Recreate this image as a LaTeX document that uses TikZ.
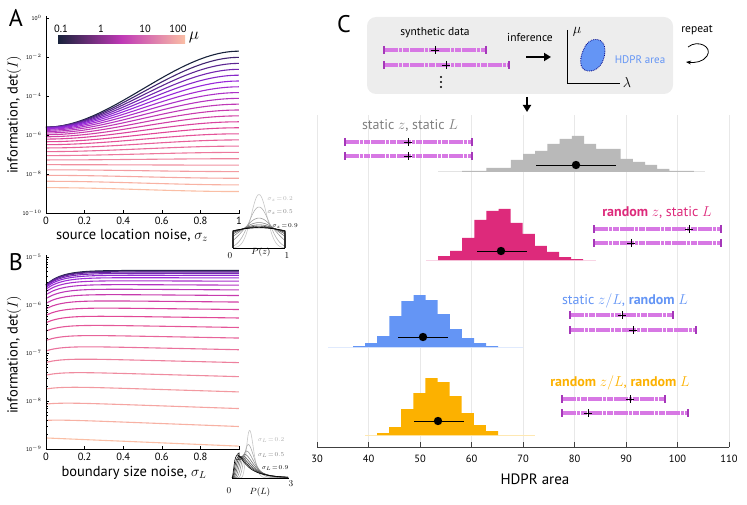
\documentclass[tikz,border=0pt]{standalone}
\usepackage{fontspec}
\setmainfont{PT Sans}
\usetikzlibrary{arrows.meta}
\definecolor{c0}{RGB}{25,35,60}
\definecolor{c1}{RGB}{150,40,220}
\definecolor{c2}{RGB}{225,70,150}
\definecolor{c3}{RGB}{250,190,165}
\definecolor{hgray}{RGB}{185,185,185}
\definecolor{hpink}{RGB}{221,42,123}
\definecolor{hblue}{RGB}{100,149,245}
\definecolor{horange}{RGB}{252,177,0}
\definecolor{dlight}{RGB}{215,120,228}
\definecolor{ddark}{RGB}{165,55,185}
\newcommand\hist[5]{\fill[#4] (#1,#3) \foreach \h [count=\i] in {#5} { -- ({#1+(\i-1)*#2},{#3-\h}) -- ({#1+\i*#2},{#3-\h}) } |- (#1,#3) -- cycle;}
\newcommand\dbar[4]{% y, x0, x1, cross
  \draw[dlight,line width=3.4pt,dash pattern=on 14pt off 1pt on 3pt off 1pt on 6pt off 1pt] (#2,#1) -- (#3,#1);
  \draw[ddark,line width=1.3pt] (#2,#1-4) -- (#2,#1+4) (#3,#1-4) -- (#3,#1+4);
  \draw[black,line width=0.6pt] (#4-4,#1) -- (#4+4,#1) (#4,#1-4) -- (#4,#1+4);}
\newcommand\mkcol[1]{%
  \pgfmathsetmacro\tc{pow(#1,0.7)}%
  \pgfmathtruncatemacro\seg{min(2,floor(\tc*3))}%
  \pgfmathtruncatemacro\pp{min(100,100*(\tc*3-\seg))}%
  \ifcase\seg \colorlet{cc}{c1!\pp!c0}\or \colorlet{cc}{c2!\pp!c1}\or \colorlet{cc}{c3!\pp!c2}\fi}
\tikzset{tick/.style={font=\fontsize{10.5}{10.5}\selectfont},
  ylab/.style={font=\fontsize{5.5}{6}\selectfont,anchor=east},
  lett/.style={font=\fontsize{24}{24}\selectfont},
  axl/.style={font=\fontsize{14.5}{14.5}\selectfont},
  clab/.style={font=\fontsize{14}{14}\selectfont}}
\begin{document}
\begin{tikzpicture}[x=1pt,y=-1pt]
\useasboundingbox (0,0) rectangle (747,505);
% ===== Panel A =====
\node[lett] (la) at (16,18) {A};
\foreach \i in {0,...,23}{
  \pgfmathsetmacro\t{\i/23}
  \mkcol{\t}
  \pgfmathsetmacro\aa{-5.6-3.1*pow(\t,2.5)}
  \pgfmathsetmacro\bb{4.1*pow(1-\t,1.8)-0.2}
  \draw[cc,line width=1.1pt] plot[domain=0:1,samples=25,smooth] ({46+193*\x},{18-19.5*(\aa+\bb*(3*\x*\x-2*\x*\x*\x))});
}
\draw[line width=0.8pt] (46,16) -- (46,213) -- (240,213);
\foreach \k/\lab in {0/0,2/-2,4/-4,6/-6,8/-8,10/-10}{
  \draw (46,18+19.5*\k) -- (49,18+19.5*\k);
  \node[ylab] at (45,18+19.5*\k) {10$^{\lab}$};}
\foreach \v in {0,0.2,0.4,0.6,0.8,1}{
  \draw (46+193*\v,213) -- (46+193*\v,210);
  \node[tick] at (46+193*\v,221) {\v};}
\node[axl,rotate=90] (ayl) at (14,115) {information, $\det(I)$};
\node[axl] (axl) at (132,235) {source location noise, $\sigma_z$};
\shade[left color=c0,right color=c3,middle color=c1!45!c2] (58,36) rectangle (185,44);
\node[tick] at (61,29) {0.1};\node[tick] at (101,29) {1};
\node[tick] at (145,29) {10};\node[tick] at (178,29) {100};
\node[font=\fontsize{16}{16}\selectfont] at (194,37) {$\mu$};
% inset A
\foreach \s/\g in {0.15/22,0.2/30,0.3/40,0.4/50,0.5/60,0.6/70,0.7/80,0.8/90,0.9/100}{
  \pgfmathsetmacro\P{20/(\s*2.5066*tanh(0.424/\s))}
  \draw[black!\g,line width=0.6pt] (233,248) -- plot[domain=0:1,samples=30,smooth] ({233+52*\x},{248-\P*exp(-(\x-0.5)^2/(2*\s*\s))}) -- (285,248);}
\draw[line width=0.8pt] (233,248) -- (285,248);
\node[font=\fontsize{6.5}{6.5}\selectfont,text=black!30] at (280,199) {$\sigma_z\!=\!0.2$};
\node[font=\fontsize{6.5}{6.5}\selectfont,text=black!50] at (280,212) {$\sigma_z\!=\!0.5$};
\node[font=\fontsize{6.5}{6.5}\selectfont] at (285,226) {$\sigma_z\!=\!0.9$};
\node[font=\fontsize{9}{9}\selectfont] at (230,256) {$0$};
\node[font=\fontsize{9}{9}\selectfont] at (287,256) {$1$};
\node[font=\fontsize{9}{9}\selectfont] at (261,252) {$P(z)$};
% ===== Panel B =====
\node[lett] (lb) at (16,262) {B};
\foreach \i in {0,...,21}{
  \pgfmathsetmacro\t{\i/21}
  \mkcol{\t}
  \pgfmathsetmacro\aa{-5.58-3.19*pow(\t,2.5)}
  \pgfmathsetmacro\rr{0.3*pow(1-\t,0.8)}
  \pgfmathsetmacro\dd{0.17*\t*\t}
  \draw[cc,line width=1.1pt] plot[domain=0:1,samples=30,smooth] ({46+193*\x},{257-48*(\aa+\rr*(1-exp(-\x/0.08))-\dd*\x+5)});
}
\draw[line width=0.8pt] (46,255) -- (46,449) -- (240,449);
\foreach \k in {5,6,7,8,9}{
  \draw (46,257+48*\k-240) -- (49,257+48*\k-240);
  \node[ylab] at (45,257+48*\k-240) {10$^{-\k}$};}
\foreach \k in {5,6,7,8}{\foreach \m in {2,...,9}{
  \draw[line width=0.3pt] (46,{257+48*(\k-5)+48-48*log10(\m)}) -- (48,{257+48*(\k-5)+48-48*log10(\m)});}}
\foreach \v in {0,0.2,0.4,0.6,0.8,1}{
  \draw (46+193*\v,449) -- (46+193*\v,446);
  \node[tick] at (46+193*\v,457) {\v};}
\node[axl,rotate=90] (byl) at (14,355) {information, $\det(I)$};
\node[axl] (bxl) at (134,473) {boundary size noise, $\sigma_L$};
% inset B
\foreach \s/\g in {0.2/22,0.3/32,0.4/42,0.5/52,0.6/62,0.7/72,0.8/85,0.9/100}{
  \draw[black!\g,line width=0.6pt] (232,478) -- plot[domain=0.02:3,samples=70,smooth] ({232+18.7*\x},{478-23*exp(max(-30,-(ln(\x)+\s*\s/2)^2/(2*\s*\s)))/(\x*\s*2.5066)});}
\draw[line width=0.8pt] (232,478) -- (289,478);
\node[font=\fontsize{6.5}{6.5}\selectfont,text=black!30] at (271,440) {$\sigma_L\!=\!0.2$};
\node[font=\fontsize{6.5}{6.5}\selectfont,text=black!50] at (271,455) {$\sigma_L\!=\!0.5$};
\node[font=\fontsize{6.5}{6.5}\selectfont] at (275,468) {$\sigma_L\!=\!0.9$};
\node[font=\fontsize{9}{9}\selectfont] at (229,491) {$0$};
\node[font=\fontsize{9}{9}\selectfont] at (291,484) {$3$};
\node[font=\fontsize{9}{9}\selectfont] at (260,492) {$P(L)$};
% ===== Panel C =====
\node[lett] (lc) at (344,24) {C};
\fill[black!7,rounded corners=9pt] (367,17) rectangle (673,94);
\node[font=\fontsize{11.5}{11.5}\selectfont] (syn) at (435,33) {synthetic data};
\dbar{50}{384}{486}{435}
\dbar{65}{384}{509}{446}
\foreach \yy in {77,82,87} \fill (441,\yy) circle (1.1pt);
\node[font=\fontsize{11.5}{11.5}\selectfont] (inf) at (530,38) {inference};
\coordinate (ia) at (526,57); \coordinate (ib) at (551,57);
\draw[-{Triangle[length=7pt,width=8pt]},line width=1.8pt] (ia) -- (ib);
\draw[line width=0.7pt] (567,30) -- (567,83) -- (620,83);
\node[font=\fontsize{15}{15}\selectfont] (mu) at (577,32) {$\mu$};
\node[font=\fontsize{15}{15}\selectfont] (lam) at (627,83) {$\lambda$};
\draw[fill=hblue,draw=blue!50!black,densely dotted,line width=0.8pt] (586,45) .. controls (592,36) and (605,38) .. (605,50) .. controls (605,62) and (598,72) .. (588,71) .. controls (578,70) and (579,56) .. (586,45);
\node[font=\fontsize{11}{11}\selectfont,text=hblue] (hd) at (640,60) {HDPR area};
\node[font=\fontsize{11.5}{11.5}\selectfont] (rep) at (697,30) {repeat};
\coordinate (ra) at (688,47); \coordinate (rb) at (686,62);
\draw[-{Stealth[length=5pt]},line width=0.8pt] (ra) .. controls (698,39) and (713,47) .. (707,56) .. controls (703,62) and (695,63) .. (rb);
\coordinate (da) at (527,97); \coordinate (db) at (527,112);
\draw[-{Triangle[length=7pt,width=8pt]},line width=1.8pt] (da) -- (db);
% grid and axis
\foreach \v in {30,40,...,110}{
  \draw[black!9,line width=0.6pt] ({317+(\v-30)*5.15},115) -- ({317+(\v-30)*5.15},447);}
\draw[line width=0.8pt,black!75] (317,447) -- (729,447);
\foreach \v in {30,40,...,110}{
  \draw[black!75] ({317+(\v-30)*5.15},447) -- ({317+(\v-30)*5.15},442);
  \node[tick] at ({317+(\v-30)*5.15},459) {\v};}
\node[font=\fontsize{15}{15}\selectfont] (hx) at (535,479) {HDPR area};
% histograms
\draw[hgray!40,line width=1pt] (438,172) -- (705,172);
\hist{462}{12.2}{172}{hgray}{1,1,4,4,12,18,21,28,33,36,28,23,23,13,10,7,3,1,1}
\draw[line width=0.7pt] (536,165) -- (616,165); \fill (576,165) circle (4.2pt);
\draw[hpink!20,line width=1pt] (426,260) -- (596,260);
\hist{438}{12.1}{260}{hpink}{4,9,22,40,49,51,37,26,14,8,3,1}
\draw[line width=0.7pt] (477,251) -- (527,251); \fill (501,251) circle (4.2pt);
\draw[hblue!20,line width=1pt] (328,347) -- (523,347);
\hist{353}{12.1}{347}{hblue}{1,4,11,31,46,52,47,33,18,9,4,1}
\draw[line width=0.7pt] (398,337) -- (448,337); \fill (423,337) circle (4.2pt);
\draw[horange!30,line width=1pt] (365,435) -- (535,435);
\hist{377}{12.1}{435}{horange}{2,8,26,42,57,53,39,22,10,4}
\draw[line width=0.7pt] (414,421) -- (464,421); \fill (438,421) circle (4.2pt);
% labels and data bars
\node[clab,text=black!50] (g1) at (410,126) {static $z$, static $L$};
\dbar{142}{345}{472}{408}
\dbar{156}{345}{472}{408}
\node[clab,text=hpink] (p1) at (657,213) {\textbf{random} $z$, static $L$};
\dbar{229}{594}{721}{689}
\dbar{243}{594}{721}{631}
\node[clab,text=hblue] (b1) at (625,301) {static $z/L$, \textbf{random} $L$};
\dbar{315}{570}{673}{622}
\dbar{330}{570}{696}{633}
\node[clab,text=horange] (o1) at (620,383) {\textbf{random} $z/L$, \textbf{random} $L$};
\dbar{399}{562}{665}{630}
\dbar{413}{562}{688}{588}
\end{tikzpicture}
\end{document}
